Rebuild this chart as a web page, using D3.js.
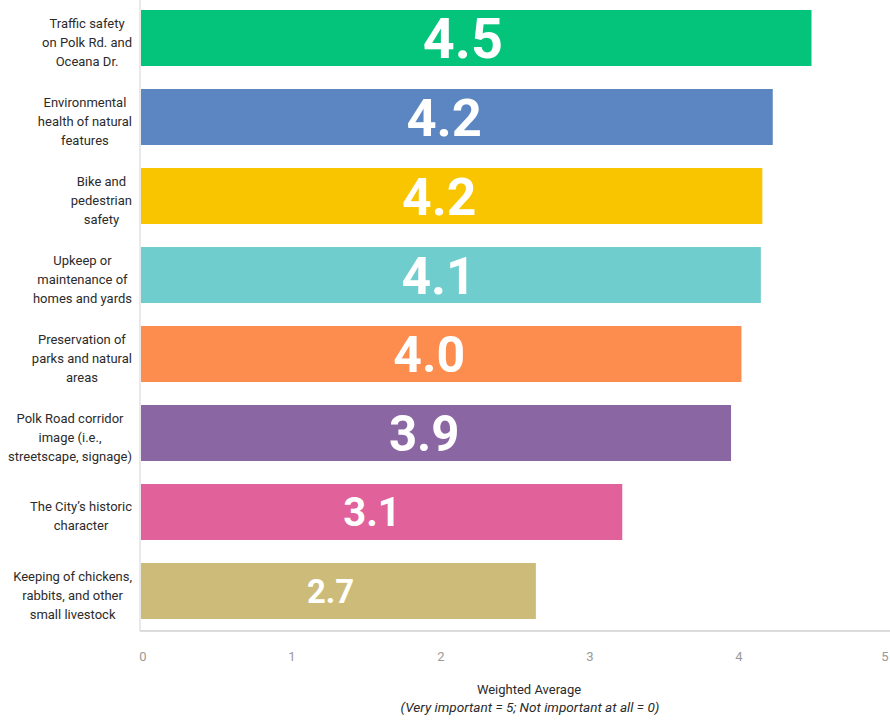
<!DOCTYPE html>
<html>
<head>
<meta charset="utf-8">
<script src="https://cdn.jsdelivr.net/npm/d3@7"></script>
<style>
  body { margin: 0; background: #fff; }
  svg { display: block; font-family: Roboto, "Noto Sans", sans-serif; }
</style>
</head>
<body>
<script>
// chart data
var categories = [
  ["Traffic safety", "on Polk Rd. and", "Oceana Dr."],
  ["Environmental", "health of natural", "features"],
  ["Bike and", "pedestrian", "safety"],
  ["Upkeep or", "maintenance of", "homes and yards"],
  ["Preservation of", "parks and natural", "areas"],
  ["Polk Road corridor", "image (i.e.,", "streetscape, signage)"],
  ["The City\u2019s historic", "character"],
  ["Keeping of chickens,", "rabbits, and other", "small livestock"]
];
var values = [4.50, 4.24, 4.17, 4.16, 4.03, 3.96, 3.23, 2.65];
var valueLabels = ["4.5", "4.2", "4.2", "4.1", "4.0", "3.9", "3.1", "2.7"];
var tickValues = [0, 1, 2, 3, 4, 5];
var axisTitle = "Weighted Average";
var axisSubtitle = "(Very important = 5; Not important at all = 0)";

var palette = ["#03c47a", "#5b86c2", "#f8c500", "#70cdcd", "#fd8c4f", "#8a66a3", "#e1619b", "#cdbc79"];

// Chart basic vars
var width = 890,
    height = 720,
    margin = {left: 141, top: 10, right: 4, bottom: 89};

var x = d3.scaleLinear()
        .domain([0, 5])
        .range([margin.left, margin.left + 5 * 149]),
    y = d3.scaleBand()
        .domain(d3.range(categories.length))
        .range([margin.top - 11.5, margin.top - 11.5 + 79 * categories.length])
        .paddingInner(23 / 79)
        .paddingOuter(11.5 / 79),
    color = d3.scaleOrdinal()
        .domain(d3.range(categories.length))
        .range(palette);

var svg = d3.select("body").append("svg")
    .attr("width", width)
    .attr("height", height);

var axisY = 631;

// left rule
svg.append("line")
    .attr("x1", margin.left - 1).attr("x2", margin.left - 1)
    .attr("y1", 0).attr("y2", axisY)
    .attr("stroke", "#e2e2e2")
    .attr("stroke-width", 1.5);

// bars
svg.selectAll(".bar")
    .data(values)
  .enter().append("rect")
    .attr("class", "bar")
    .attr("x", x(0))
    .attr("y", function(d, i) { return y(i); })
    .attr("width", function(d) { return x(d) - x(0); })
    .attr("height", y.bandwidth())
    .style("fill", function(d, i) { return color(i); });

// value labels, sized by value like the original
svg.selectAll(".val")
    .data(values)
  .enter().append("text")
    .attr("class", "val")
    .attr("x", function(d) { return x(0) + (x(d) - x(0)) * 0.48; })
    .attr("y", function(d, i) { return y(i) + y.bandwidth() / 2; })
    .attr("dy", "0.36em")
    .attr("text-anchor", "middle")
    .attr("fill", "#fff")
    .attr("font-weight", 700)
    .attr("font-size", function(d) { return (d * 12.4) + "px"; })
    .text(function(d, i) { return valueLabels[i]; });

// category labels: block right-aligned, lines centred
var cat = svg.selectAll(".cat")
    .data(categories)
  .enter().append("text")
    .attr("class", "cat")
    .attr("font-size", "13px")
    .attr("fill", "#2b2b2b")
    .attr("text-anchor", "middle");

cat.each(function(lines, i) {
    var t = d3.select(this);
    var cy = y(i) + y.bandwidth() / 2 + 4;
    var start = cy - (lines.length - 1) * 19 / 2;
    lines.forEach(function(l, j) {
        t.append("tspan")
            .attr("y", start + j * 19)
            .attr("dy", "0.35em")
            .text(l);
    });
    var maxW = 0;
    t.selectAll("tspan").each(function() {
        maxW = Math.max(maxW, this.getComputedTextLength());
    });
    t.selectAll("tspan").attr("x", 132 - maxW / 2);
});

// bottom axis
var xAxis = d3.axisBottom(x)
    .tickValues(tickValues)
    .tickSize(0)
    .tickPadding(21)
    .tickFormat(d3.format("d"));

var gx = svg.append("g")
    .attr("class", "axis")
    .attr("transform", "translate(0," + axisY + ")")
    .call(xAxis);
gx.select(".domain")
    .attr("d", "M" + (margin.left - 1) + ",0H" + width)
    .attr("stroke", "#cfcfcf")
    .attr("stroke-width", 1.5);
gx.selectAll(".tick").attr("transform", function(d) {
    return "translate(" + Math.min(x(d) + 2, width - 5) + ",0)";
});
gx.selectAll("text")
    .attr("fill", "#999")
    .attr("font-size", "13px")
    .attr("font-family", "Roboto, sans-serif");

// axis title
svg.append("text")
    .attr("x", 529)
    .attr("y", 694)
    .attr("text-anchor", "middle")
    .attr("font-size", "13px")
    .attr("fill", "#2b2b2b")
    .text(axisTitle);
svg.append("text")
    .attr("x", 530)
    .attr("y", 712)
    .attr("text-anchor", "middle")
    .attr("font-size", "13.6px")
    .attr("font-style", "italic")
    .attr("fill", "#2b2b2b")
    .text(axisSubtitle);
</script>
</body>
</html>
